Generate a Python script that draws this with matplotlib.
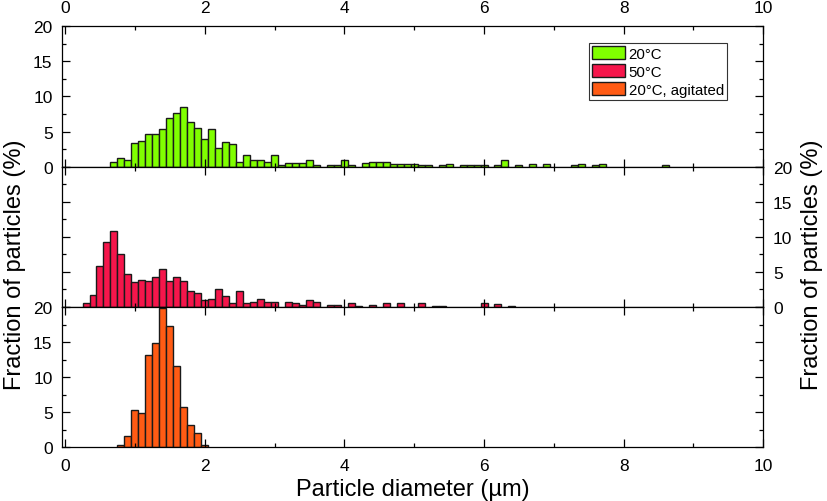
import numpy as np
import matplotlib.pyplot as plt
from matplotlib.ticker import MultipleLocator

# ---- DATA (fraction of particles per 0.1 um bin, %) ---- #
bin_width = 0.1

green_start = 0.65  # 20 C
green_vals = [0.7, 1.17, 0.94, 3.3, 3.7, 4.65, 4.65, 5.3, 6.9, 7.6,
              8.55, 6.4, 5.5, 3.9, 5.3, 2.7, 3.5, 3.2, 0.7, 1.6,
              0.94, 0.94, 0.7, 1.6, 0.28, 0.47, 0.47, 0.47, 0.94, 0.23,
              0, 0.23, 0.23, 0.94, 0.23, 0, 0.47, 0.7, 0.6, 0.6,
              0.4, 0.4, 0.4, 0.4, 0.23, 0.23, 0, 0.23, 0.4, 0,
              0.23, 0.23, 0.23, 0.23, 0, 0.23, 0.9, 0, 0.23, 0,
              0.4, 0, 0.4, 0, 0, 0, 0.23, 0.4, 0, 0.23,
              0.4, 0, 0, 0, 0, 0, 0, 0, 0, 0.23]

red_start = 0.25  # 50 C
red_vals = [0.52, 1.7, 5.9, 9.3, 10.8, 7.6, 4.7, 3.5, 3.9, 3.7,
            4.2, 5.4, 3.7, 4.2, 3.7, 2.3, 2.0, 1.0, 1.2, 2.5,
            1.5, 0.52, 2.3, 0.52, 0.75, 1.2, 0.75, 0.75, 0, 0.75,
            0.52, 0.25, 1.0, 0.65, 0, 0.3, 0.3, 0, 0.6, 0.2,
            0, 0.33, 0, 0.6, 0, 0.6, 0, 0, 0.6, 0,
            0.15, 0.15, 0, 0, 0, 0, 0, 0.6, 0, 0.4,
            0, 0.15]

orange_start = 0.75  # 20 C, agitated
orange_vals = [0.38, 1.6, 5.3, 4.9, 13.2, 14.9, 19.8, 17.3, 11.6, 5.75,
               3.2, 2.0, 0.38]

labels = ['20°C', '50°C', '20°C, agitated']
colors = ['#80FF00', '#F5164B', '#FF5B14']

xlbl = 'Particle diameter (µm)'
ylbl = 'Fraction of particles (%)'

plt.rcParams['font.family'] = ['Liberation Sans', 'DejaVu Sans']

# ---- PLOTTING ---- #
fig, axes = plt.subplots(3, 1, figsize=(8.27, 5.02), dpi=100, sharex=True)
fig.subplots_adjust(left=0.0753, right=0.923, top=0.9456, bottom=0.107,
                    hspace=0)

series = [(green_start, green_vals), (red_start, red_vals),
          (orange_start, orange_vals)]
handles = []
for ax, (start, vals), col, lab in zip(axes, series, colors, labels):
    vals = np.array(vals)
    lefts = start + bin_width * np.arange(len(vals))
    keep = vals > 0
    b = ax.bar(lefts[keep], vals[keep], width=bin_width, align='edge',
               color=col, edgecolor='#1a1a1a', linewidth=1.0, label=lab)
    handles.append(b)
    ax.set_xlim(-0.04, 10)
    ax.set_ylim(0, 20)
    ax.xaxis.set_major_locator(MultipleLocator(2))
    ax.xaxis.set_minor_locator(MultipleLocator(1))
    ax.yaxis.set_major_locator(MultipleLocator(5))
    ax.yaxis.set_minor_locator(MultipleLocator(2.5))
    ax.tick_params(which='both', direction='in', top=True, bottom=True,
                   left=True, right=True, width=0.9, labelsize=12.5,
                   labelbottom=False, labeltop=False,
                   labelleft=False, labelright=False)
    ax.tick_params(which='major', length=6)
    ax.tick_params(which='minor', length=3)
    ax.tick_params(axis='x', pad=8)
    ax.tick_params(axis='y', pad=7)
    for sp in ax.spines.values():
        sp.set_linewidth(0.9)

axes[0].tick_params(labeltop=True, labelleft=True)
axes[1].tick_params(labelright=True)
axes[2].tick_params(labelbottom=True, labelleft=True)

# ---- LEGEND ---- #
leg = axes[0].legend(handles=handles, loc='upper right',
                     bbox_to_anchor=(0.948, 0.881), borderaxespad=0,
                     fontsize=10.8, fancybox=False, edgecolor='#333333',
                     framealpha=1, handlelength=2.2, handleheight=1.0,
                     handletextpad=0.25, labelspacing=0.2, borderpad=0.2)
leg.get_frame().set_linewidth(0.8)

# ---- LABELS ---- #
axes[2].set_xlabel(xlbl, fontsize=17, labelpad=3)
fig.text(0.018, 0.473, ylbl, rotation=90, ha='center', va='center',
         fontsize=17)
fig.text(0.982, 0.473, ylbl, rotation=90, ha='center', va='center',
         fontsize=17)

plt.savefig('out.png', dpi=100)
